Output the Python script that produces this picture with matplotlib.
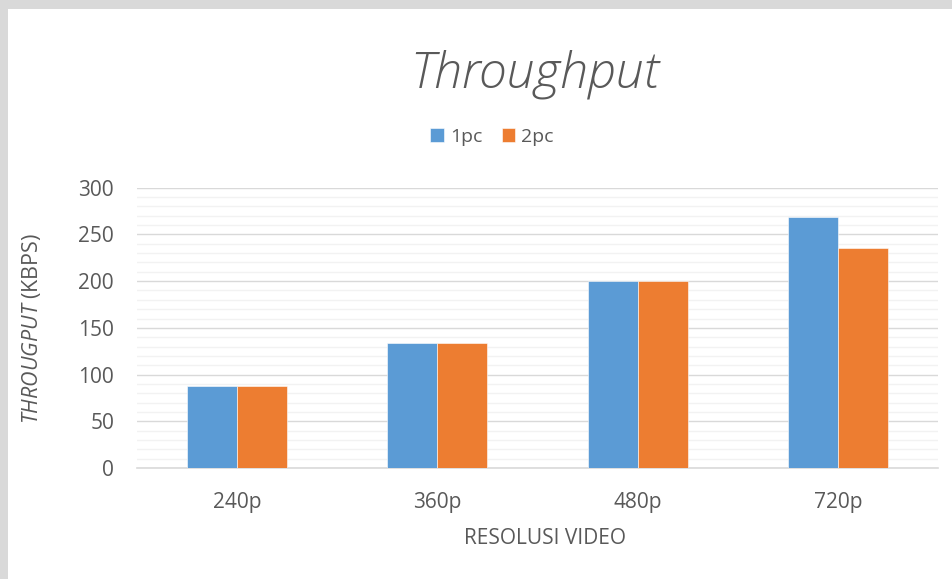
import matplotlib
matplotlib.use("Agg")
import matplotlib.pyplot as plt
import numpy as np
from matplotlib.patches import Rectangle
from matplotlib.ticker import MultipleLocator

plt.rcParams["font.family"] = ["Open Sans", "DejaVu Sans"]
plt.rcParams["mathtext.fontset"] = "custom"
plt.rcParams["mathtext.it"] = "Open Sans:italic"
plt.rcParams["mathtext.rm"] = "Open Sans"

# throughput per video resolution (kbps)
resolutions = ["240p", "360p", "480p", "720p"]
series_names = ["1pc", "2pc"]
tp_1pc = [88, 134, 200, 269]
tp_2pc = [88, 134, 200, 235]

BLUE = "#5B9BD5"
ORANGE = "#ED7D31"
TEXT = "#595959"

W, H = 953, 579
fig = plt.figure(figsize=(W / 100, H / 100), dpi=100)
fig.patch.set_facecolor("#d9d9d9")
# white chart panel
fig.patches.append(Rectangle((8 / W, 0), 1, 1 - 9 / H, transform=fig.transFigure,
                             facecolor="white", edgecolor="none", zorder=-5))

ax = fig.add_axes([137 / W, 1 - 468 / H, (938 - 137) / W, (468 - 187.7) / H])
ax.set_facecolor("none")

x = np.arange(len(resolutions))
bw = 0.25
ax.bar(x - bw / 2, tp_1pc, bw, color=BLUE, label=series_names[0],
       edgecolor="white", linewidth=0.4, zorder=3)
ax.bar(x + bw / 2, tp_2pc, bw, color=ORANGE, label=series_names[1],
       edgecolor="white", linewidth=0.4, zorder=3)

ax.set_xlim(-0.5, len(resolutions) - 0.5)
ax.set_ylim(0, 300)
ax.set_xticks(x)
ax.set_xticklabels(resolutions)
ax.yaxis.set_major_locator(MultipleLocator(50))
ax.yaxis.set_minor_locator(MultipleLocator(10))
ax.grid(axis="y", which="major", color="#d9d9d9", linewidth=1.0, zorder=0)
ax.grid(axis="y", which="minor", color="#f2f2f2", linewidth=1.0, zorder=0)
ax.tick_params(which="both", length=0, labelsize=15, labelcolor=TEXT)
ax.tick_params(axis="x", pad=17)
ax.tick_params(axis="y", pad=16.5)
for s in ["top", "right", "left"]:
    ax.spines[s].set_visible(False)
ax.spines["bottom"].set_color("#d9d9d9")
ax.spines["bottom"].set_linewidth(1.2)

fig.text(535 / W, 1 - 88 / H, "Throughput", ha="center", va="baseline",
         fontsize=36, style="italic", fontweight="light", color=TEXT)
fig.text(545 / W, 1 - 538 / H, "RESOLUSI VIDEO", ha="center", va="center",
         fontsize=15, color=TEXT)
fig.text(32 / W, 1 - 328 / H, r"$\it{THROUGPUT}$ (KBPS)", ha="center", va="center",
         rotation=90, fontsize=15.5, color=TEXT)

fig.legend(loc="center", bbox_to_anchor=(492 / W, 1 - 137 / H), ncol=2,
           frameon=False, fontsize=14, labelcolor=TEXT, handlelength=0.7,
           handleheight=0.7, handletextpad=0.3, columnspacing=1.0)

fig.savefig("out.png", dpi=100)
